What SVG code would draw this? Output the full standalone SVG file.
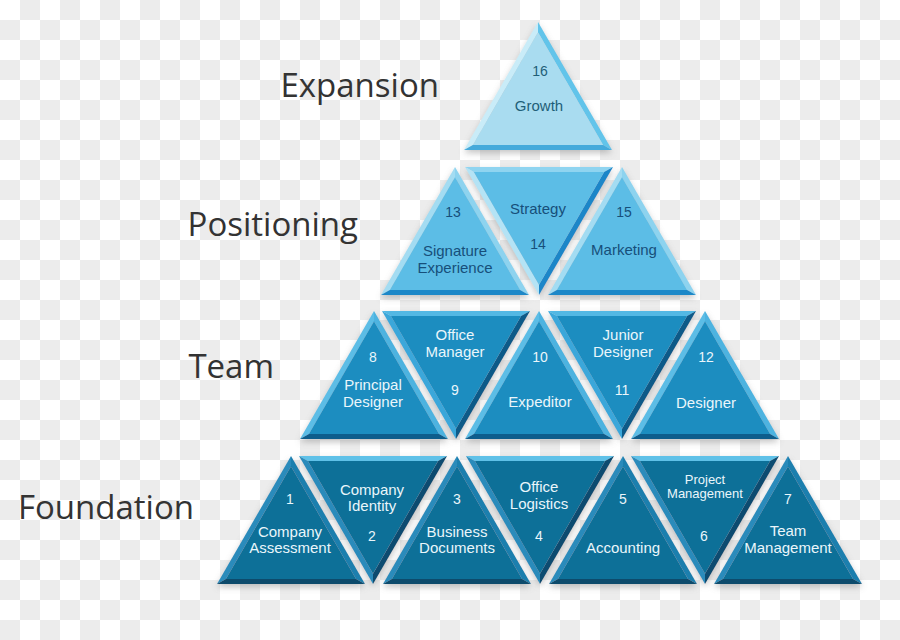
<svg xmlns="http://www.w3.org/2000/svg" width="900" height="640" viewBox="0 0 900 640">
<defs>
<pattern id="chk" width="40" height="40" patternUnits="userSpaceOnUse">
<rect width="40" height="40" fill="#ffffff"/>
<rect x="20" y="0" width="20" height="20" fill="#ececec"/>
<rect x="0" y="20" width="20" height="20" fill="#ececec"/>
</pattern>
<filter id="sh" x="-20%" y="-20%" width="140%" height="140%">
<feDropShadow dx="0" dy="3" stdDeviation="3" flood-color="#7a7a7a" flood-opacity="0.45"/>
</filter>
</defs>
<style>
.lbl{font-family:"Open Sans","Liberation Sans",sans-serif;font-size:33px;fill:#333333;text-anchor:end}
.t{font-family:"Liberation Sans",Arial,sans-serif;font-size:15px;text-anchor:middle}
.n{font-family:"Liberation Sans",Arial,sans-serif;font-size:14px;text-anchor:middle}
.tri{filter:url(#sh)}
.r1 .face{fill:#a9dcf0}.r1 .bl{fill:#c9ecf8}.r1 .br{fill:#62c4ea}.r1 .bb{fill:#45aadb}
.r1 text{fill:#1f5f78}
.r2 .face{fill:#5bbde6}.r2 .bl{fill:#a3dcf2}.r2 .br{fill:#8dd3ef}.r2 .bb{fill:#1e88c8}
.r2 .bt{fill:#8fd4f0}.r2 .dl{fill:#b4e3f5}.r2 .dr{fill:#1f86c8}
.r2 text{fill:#174f7a}
.r3 .face{fill:#1b8dc0}.r3 .bl{fill:#5bbde6}.r3 .br{fill:#4db3e0}.r3 .bb{fill:#0c5d8c}
.r3 .bt{fill:#52b8e4}.r3 .dl{fill:#3aa7da}.r3 .dr{fill:#0b5a88}
.r3 text{fill:#eaf6fb}
.r4 .face{fill:#0f6f98}.r4 .bl{fill:#2a8bbb}.r4 .br{fill:#1c7fae}.r4 .bb{fill:#0a4b6c}
.r4 .bt{fill:#5ec1e8}.r4 .dl{fill:#2a8bbb}.r4 .dr{fill:#0a4c70}
.r4 text{fill:#eaf6fb}
</style>
<rect width="900" height="640" fill="url(#chk)"/>

<g id="labels">
<text class="lbl" x="439" y="97">Expansion</text>
<text class="lbl" x="358" y="236">Positioning</text>
<text class="lbl" x="274" y="378">Team</text>
<text class="lbl" x="194" y="519">Foundation</text>
</g>

<g id="connectors"></g>

<!-- Row 1 -->
<g id="n16" class="r1">
<g class="tri" transform="translate(538,22)">
<polygon class="bl" points="0,0 -74,128 -65.1,122.9 0,10.2"/>
<polygon class="br" points="0,0 74,128 65.1,122.9 0,10.2"/>
<polygon class="bb" points="-74,128 74,128 65.1,122.9 -65.1,122.9"/>
<polygon class="face" points="0,10.2 -65.1,122.9 65.1,122.9"/>
</g>
<text class="n" x="540" y="76">16</text>
<text class="t" x="539" y="111">Growth</text>
</g>

<!-- Row 2 -->
<g id="n13" class="r2">
<g class="tri" transform="translate(455,167)">
<polygon class="bl" points="0,0 -74,128 -65.1,122.9 0,10.2"/>
<polygon class="br" points="0,0 74,128 65.1,122.9 0,10.2"/>
<polygon class="bb" points="-74,128 74,128 65.1,122.9 -65.1,122.9"/>
<polygon class="face" points="0,10.2 -65.1,122.9 65.1,122.9"/>
</g>
<text class="n" x="453" y="217">13</text>
<text class="t" x="455" y="256">Signature</text>
<text class="t" x="455" y="273">Experience</text>
</g>
<g id="n14" class="r2">
<g class="tri" transform="translate(539,167)">
<polygon class="bt" points="-74,0 74,0 65.1,5.1 -65.1,5.1"/>
<polygon class="dl" points="-74,0 0,128 0,117.8 -65.1,5.1"/>
<polygon class="dr" points="74,0 0,128 0,117.8 65.1,5.1"/>
<polygon class="face" points="-65.1,5.1 65.1,5.1 0,117.8"/>
</g>
<text class="t" x="538" y="214">Strategy</text>
<text class="n" x="538" y="249">14</text>
</g>
<g id="n15" class="r2">
<g class="tri" transform="translate(622,167)">
<polygon class="bl" points="0,0 -74,128 -65.1,122.9 0,10.2"/>
<polygon class="br" points="0,0 74,128 65.1,122.9 0,10.2"/>
<polygon class="bb" points="-74,128 74,128 65.1,122.9 -65.1,122.9"/>
<polygon class="face" points="0,10.2 -65.1,122.9 65.1,122.9"/>
</g>
<text class="n" x="624" y="217">15</text>
<text class="t" x="624" y="255">Marketing</text>
</g>

<!-- Row 3 -->
<g id="n8" class="r3">
<g class="tri" transform="translate(374,311)">
<polygon class="bl" points="0,0 -74,128 -65.1,122.9 0,10.2"/>
<polygon class="br" points="0,0 74,128 65.1,122.9 0,10.2"/>
<polygon class="bb" points="-74,128 74,128 65.1,122.9 -65.1,122.9"/>
<polygon class="face" points="0,10.2 -65.1,122.9 65.1,122.9"/>
</g>
<text class="n" x="373" y="362">8</text>
<text class="t" x="373" y="390">Principal</text>
<text class="t" x="373" y="407">Designer</text>
</g>
<g id="n9" class="r3">
<g class="tri" transform="translate(456,311)">
<polygon class="bt" points="-74,0 74,0 65.1,5.1 -65.1,5.1"/>
<polygon class="dl" points="-74,0 0,128 0,117.8 -65.1,5.1"/>
<polygon class="dr" points="74,0 0,128 0,117.8 65.1,5.1"/>
<polygon class="face" points="-65.1,5.1 65.1,5.1 0,117.8"/>
</g>
<text class="t" x="455" y="340">Office</text>
<text class="t" x="455" y="357">Manager</text>
<text class="n" x="455" y="395">9</text>
</g>
<g id="n10" class="r3">
<g class="tri" transform="translate(539,311)">
<polygon class="bl" points="0,0 -74,128 -65.1,122.9 0,10.2"/>
<polygon class="br" points="0,0 74,128 65.1,122.9 0,10.2"/>
<polygon class="bb" points="-74,128 74,128 65.1,122.9 -65.1,122.9"/>
<polygon class="face" points="0,10.2 -65.1,122.9 65.1,122.9"/>
</g>
<text class="n" x="540" y="362">10</text>
<text class="t" x="540" y="407">Expeditor</text>
</g>
<g id="n11" class="r3">
<g class="tri" transform="translate(622,311)">
<polygon class="bt" points="-74,0 74,0 65.1,5.1 -65.1,5.1"/>
<polygon class="dl" points="-74,0 0,128 0,117.8 -65.1,5.1"/>
<polygon class="dr" points="74,0 0,128 0,117.8 65.1,5.1"/>
<polygon class="face" points="-65.1,5.1 65.1,5.1 0,117.8"/>
</g>
<text class="t" x="623" y="340">Junior</text>
<text class="t" x="623" y="357">Designer</text>
<text class="n" x="622" y="395">11</text>
</g>
<g id="n12" class="r3">
<g class="tri" transform="translate(705,311)">
<polygon class="bl" points="0,0 -74,128 -65.1,122.9 0,10.2"/>
<polygon class="br" points="0,0 74,128 65.1,122.9 0,10.2"/>
<polygon class="bb" points="-74,128 74,128 65.1,122.9 -65.1,122.9"/>
<polygon class="face" points="0,10.2 -65.1,122.9 65.1,122.9"/>
</g>
<text class="n" x="706" y="362">12</text>
<text class="t" x="706" y="408">Designer</text>
</g>

<!-- Row 4 -->
<g id="n1" class="r4">
<g class="tri" transform="translate(291,456)">
<polygon class="bl" points="0,0 -74,128 -65.1,122.9 0,10.2"/>
<polygon class="br" points="0,0 74,128 65.1,122.9 0,10.2"/>
<polygon class="bb" points="-74,128 74,128 65.1,122.9 -65.1,122.9"/>
<polygon class="face" points="0,10.2 -65.1,122.9 65.1,122.9"/>
</g>
<text class="n" x="290" y="504">1</text>
<text class="t" x="290" y="537">Company</text>
<text class="t" x="290" y="553">Assessment</text>
</g>
<g id="n2" class="r4">
<g class="tri" transform="translate(373,456)">
<polygon class="bt" points="-74,0 74,0 65.1,5.1 -65.1,5.1"/>
<polygon class="dl" points="-74,0 0,128 0,117.8 -65.1,5.1"/>
<polygon class="dr" points="74,0 0,128 0,117.8 65.1,5.1"/>
<polygon class="face" points="-65.1,5.1 65.1,5.1 0,117.8"/>
</g>
<text class="t" x="372" y="495">Company</text>
<text class="t" x="372" y="511">Identity</text>
<text class="n" x="372" y="541">2</text>
</g>
<g id="n3" class="r4">
<g class="tri" transform="translate(457,456)">
<polygon class="bl" points="0,0 -74,128 -65.1,122.9 0,10.2"/>
<polygon class="br" points="0,0 74,128 65.1,122.9 0,10.2"/>
<polygon class="bb" points="-74,128 74,128 65.1,122.9 -65.1,122.9"/>
<polygon class="face" points="0,10.2 -65.1,122.9 65.1,122.9"/>
</g>
<text class="n" x="457" y="504">3</text>
<text class="t" x="457" y="537">Business</text>
<text class="t" x="457" y="553">Documents</text>
</g>
<g id="n4" class="r4">
<g class="tri" transform="translate(540,456)">
<polygon class="bt" points="-74,0 74,0 65.1,5.1 -65.1,5.1"/>
<polygon class="dl" points="-74,0 0,128 0,117.8 -65.1,5.1"/>
<polygon class="dr" points="74,0 0,128 0,117.8 65.1,5.1"/>
<polygon class="face" points="-65.1,5.1 65.1,5.1 0,117.8"/>
</g>
<text class="t" x="539" y="492">Office</text>
<text class="t" x="539" y="509">Logistics</text>
<text class="n" x="539" y="541">4</text>
</g>
<g id="n5" class="r4">
<g class="tri" transform="translate(623,456)">
<polygon class="bl" points="0,0 -74,128 -65.1,122.9 0,10.2"/>
<polygon class="br" points="0,0 74,128 65.1,122.9 0,10.2"/>
<polygon class="bb" points="-74,128 74,128 65.1,122.9 -65.1,122.9"/>
<polygon class="face" points="0,10.2 -65.1,122.9 65.1,122.9"/>
</g>
<text class="n" x="623" y="504">5</text>
<text class="t" x="623" y="553">Accounting</text>
</g>
<g id="n6" class="r4">
<g class="tri" transform="translate(705,456)">
<polygon class="bt" points="-74,0 74,0 65.1,5.1 -65.1,5.1"/>
<polygon class="dl" points="-74,0 0,128 0,117.8 -65.1,5.1"/>
<polygon class="dr" points="74,0 0,128 0,117.8 65.1,5.1"/>
<polygon class="face" points="-65.1,5.1 65.1,5.1 0,117.8"/>
</g>
<text class="t" x="705" y="484" style="font-size:13px">Project</text>
<text class="t" x="705" y="498" style="font-size:13px">Management</text>
<text class="n" x="704" y="541">6</text>
</g>
<g id="n7" class="r4">
<g class="tri" transform="translate(788,456)">
<polygon class="bl" points="0,0 -74,128 -65.1,122.9 0,10.2"/>
<polygon class="br" points="0,0 74,128 65.1,122.9 0,10.2"/>
<polygon class="bb" points="-74,128 74,128 65.1,122.9 -65.1,122.9"/>
<polygon class="face" points="0,10.2 -65.1,122.9 65.1,122.9"/>
</g>
<text class="n" x="788" y="504">7</text>
<text class="t" x="788" y="536">Team</text>
<text class="t" x="788" y="553">Management</text>
</g>
</svg>
